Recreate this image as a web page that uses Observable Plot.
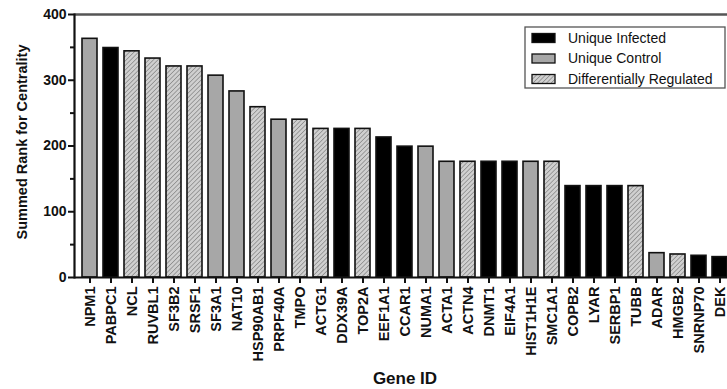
<!DOCTYPE html>
<html>
<head>
<meta charset="utf-8">
<script src="https://cdn.jsdelivr.net/npm/d3@7"></script>
<script src="https://cdn.jsdelivr.net/npm/@observablehq/plot@0.6"></script>
<style>
  html, body { margin: 0; padding: 0; background: #fff; overflow: hidden; width: 727px; height: 389px; }
  #chart svg { display: block; max-width: none !important; height: 389px !important; }
</style>
</head>
<body>
<div id="chart"></div>
<script>
const genes = ["NPM1","PABPC1","NCL","RUVBL1","SF3B2","SRSF1","SF3A1","NAT10","HSP90AB1","PRPF40A","TMPO","ACTG1","DDX39A","TOP2A","EEF1A1","CCAR1","NUMA1","ACTA1","ACTN4","DNMT1","EIF4A1","HIST1H1E","SMC1A1","COPB2","LYAR","SERBP1","TUBB","ADAR","HMGB2","SNRNP70","DEK"];
const values = [363,349,344,333,321,321,307,283,259,240,240,226,226,226,213,199,199,176,176,176,176,176,176,139,139,139,139,37,35,33,31];
const groups = ["C","I","D","D","D","D","C","C","D","C","D","D","I","D","I","I","C","C","D","I","I","C","D","I","I","I","D","C","D","I","I"];
const groupNames = {I: "Unique Infected", C: "Unique Control", D: "Differentially Regulated"};
const groupOrder = ["I","C","D"];
const yTicks = [0,100,200,300,400];
const yMinor = [50,150,250,350];
const yTitle = "Summed Rank for Centrality";
const xTitle = "Gene ID";

const fills = {I: "#000000", C: "#a7a7a7", D: "url(#hatch)"};
const data = genes.map((g, i) => ({gene: g, value: values[i], group: groups[i]}));
const font = "'Liberation Sans', Arial, Helvetica, sans-serif";

const chart = Plot.plot({
  width: 745,
  height: 389,
  marginLeft: 74,
  marginRight: 10,
  marginTop: 14,
  marginBottom: 112,
  style: {fontFamily: font, background: "#fff", color: "#111"},
  x: {domain: genes, paddingInner: 0.3, paddingOuter: 0.15, label: null},
  y: {domain: [0, 400], label: null},
  color: {type: "identity"},
  marks: [
    Plot.barY(data, {x: "gene", y: "value", fill: d => fills[d.group], stroke: "#111", strokeWidth: 1.6}),
    Plot.ruleY([400], {stroke: "#555", strokeWidth: 2.5}),
    Plot.ruleY([0], {stroke: "#111", strokeWidth: 2.2}),
    Plot.frame({anchor: "left", stroke: "#111", strokeWidth: 2.2}),
    Plot.axisY({ticks: yTicks, tickSize: 6, tickPadding: 2, fontSize: 14, fontWeight: "bold", strokeWidth: 2, label: null}),
    Plot.axisY({ticks: yMinor, tickSize: 4, text: null, strokeWidth: 2, label: null}),
    Plot.axisX({tickRotate: -90, tickSize: 6, tickPadding: 3, fontSize: 14.5, fontWeight: "bold", strokeWidth: 2, label: null}),
    Plot.text([yTitle], {frameAnchor: "left", dx: -52, dy: -4, rotate: -90, textAnchor: "middle", lineAnchor: "middle", fontSize: 14.5, fontWeight: "bold", fill: "#111"}),
    Plot.text([xTitle], {frameAnchor: "bottom", dy: 101, textAnchor: "middle", lineAnchor: "middle", fontSize: 17, fontWeight: "bold", fill: "#111"})
  ]
});

// hatch pattern definition
const svg = d3.select(chart);
const defs = svg.insert("defs", ":first-child");
const pat = defs.append("pattern")
  .attr("id", "hatch").attr("patternUnits", "userSpaceOnUse")
  .attr("width", 3.2).attr("height", 3.2)
  .attr("patternTransform", "rotate(45)");
pat.append("rect").attr("width", 3.2).attr("height", 3.2).attr("fill", "#d0d0d0");
pat.append("line").attr("x1", 0).attr("y1", 0).attr("x2", 0).attr("y2", 3.2)
  .attr("stroke", "#707070").attr("stroke-width", 1.1);

// legend
const lg = svg.append("g").attr("font-family", font).attr("text-anchor", "start");
lg.append("rect").attr("x", 525).attr("y", 27).attr("width", 200).attr("height", 61)
  .attr("fill", "#fff").attr("stroke", "#555").attr("stroke-width", 1.3);
groupOrder.forEach((k, i) => {
  const cy = 38 + i * 20.5;
  lg.append("rect").attr("x", 532).attr("y", cy - 4.5).attr("width", 23).attr("height", 9)
    .attr("fill", fills[k]).attr("stroke", "#111").attr("stroke-width", 1.3);
  lg.append("text").attr("x", 568).attr("y", cy).attr("dy", "0.35em")
    .attr("text-anchor", "start")
    .attr("font-size", 14).attr("fill", "#111").text(groupNames[k]);
});

document.getElementById("chart").appendChild(chart);
</script>
</body>
</html>
